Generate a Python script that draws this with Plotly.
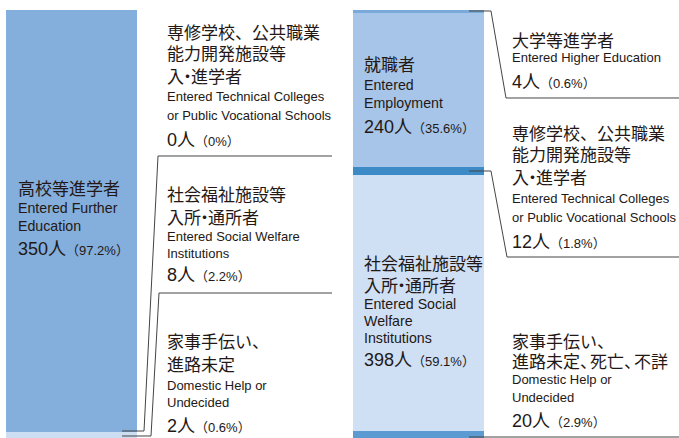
import plotly.graph_objects as go

# ---- data (stacked bottom -> top) ----
groups = ["中学部", "高等部"]
val_domestic = [2, 20]
val_welfare = [8, 398]
val_technical = [0, 12]
val_employment = [0, 240]
val_advance = [350, 4]

pct_domestic = ["0.6", "2.9"]
pct_welfare = ["2.2", "59.1"]
pct_technical = ["0", "1.8"]
pct_employment = ["", "35.6"]
pct_advance = ["97.2", "0.6"]

col_domestic = ["#5B9BD1", "#5B9BD1"]
col_welfare = ["#CDDEF2", "#CFDFF4"]
col_technical = ["#3C8AC6", "#3C8AC6"]
col_employment = ["#A7C5E8", "#A7C5E8"]
col_advance = ["#84AEDB", "#7AAAD9"]

W, H = 679, 438
BAR_W = 0.3775

fig = go.Figure()
for vals, cols in [(val_domestic, col_domestic), (val_welfare, col_welfare),
                   (val_technical, col_technical), (val_employment, col_employment),
                   (val_advance, col_advance)]:
    fig.add_trace(go.Bar(x=groups, y=vals, width=BAR_W,
                         marker=dict(color=cols, line=dict(width=0)),
                         hoverinfo="skip", showlegend=False))

def px(x, y):
    return x / W, 1 - y / H

JP = "Noto Sans CJK JP"
EN = "Liberation Sans, Noto Sans CJK JP"
TXT = "#231815"

anns = []
def line(x, y, text, size, fam):
    xx, yy = px(x, y)
    anns.append(dict(x=xx, y=yy, xref="paper", yref="paper", text=text,
                     showarrow=False, xanchor="left", yanchor="middle",
                     xshift=-2,
                     font=dict(family=fam, size=size, color=TXT)))

def tight(s, ls):
    return f"<span style='letter-spacing:{ls}px'>{s}</span>"

def num(v, p):
    return f"{v}人<span style='font-size:13px'>（{p}%）</span>"

def block(x, rows):
    for y, kind, t in rows:
        if kind == "jp":
            line(x, y, t, 17, JP)
        elif kind == "en":
            line(x, y, t, 13, EN)
        elif kind == "enb":
            line(x, y, t, 14.2, EN)
        else:
            line(x, y, t, 18, EN)

L_TECH = tight("入・", -5) + "進学者"
L_WELF = "入" + tight("所・", -5) + "通所者"
L_DOM_R = "進路未定" + tight("、", -7) + "死亡" + tight("、", -7) + "不詳"

# left bar inside
block(18, [(187, "jp", "高校等進学者"), (208, "enb", "Entered Further"),
           (226, "enb", "Education"), (249, "num", num(val_advance[0], pct_advance[0]))])
# left outside
block(167, [(31, "jp", "専修学校、公共職業"), (53, "jp", "能力開発施設等"), (75, "jp", L_TECH),
            (96, "en", "Entered Technical Colleges"), (115, "en", "or Public Vocational Schools"),
            (140, "num", num(val_technical[0], pct_technical[0]))])
block(167, [(193, "jp", "社会福祉施設等"), (216, "jp", L_WELF),
            (236, "en", "Entered Social Welfare"), (253, "en", "Institutions"),
            (275, "num", num(val_welfare[0], pct_welfare[0]))])
block(167, [(340, "jp", "家事手伝い、"), (363, "jp", "進路未定"),
            (385, "en", "Domestic Help or"), (402, "en", "Undecided"),
            (426, "num", num(val_domestic[0], pct_domestic[0]))])
# right bar inside
block(364, [(63, "jp", "就職者"), (85, "enb", "Entered"), (103, "enb", "Employment"),
            (127, "num", num(val_employment[1], pct_employment[1]))])
block(364, [(262, "jp", "社会福祉施設等"), (284, "jp", L_WELF),
            (304, "enb", "Entered Social"), (321, "enb", "Welfare"), (338, "enb", "Institutions"),
            (360, "num", num(val_welfare[1], pct_welfare[1]))])
# right outside
block(512, [(39, "jp", "大学等進学者"), (58, "en", "Entered Higher Education"),
            (82, "num", num(val_advance[1], pct_advance[1]))])
block(512, [(132, "jp", "専修学校、公共職業"), (154, "jp", "能力開発施設等"), (176, "jp", L_TECH),
            (198, "en", "Entered Technical Colleges"), (218, "en", "or Public Vocational Schools"),
            (242, "num", num(val_technical[1], pct_technical[1]))])
block(512, [(340, "jp", "家事手伝い、"), (360, "jp", L_DOM_R),
            (379, "en", "Domestic Help or"), (397, "en", "Undecided"),
            (421, "num", num(val_domestic[1], pct_domestic[1]))])

# connector lines (decoration, paper coords)
paths = [
    [(122, 431), (144, 431), (158, 156), (332, 156)],
    [(122, 436), (151, 436), (159, 293), (332, 293)],
    [(469, 11), (491, 11), (506, 98), (679, 98)],
    [(469, 171), (491, 171), (507, 257), (679, 257)],
    [(469, 437), (679, 437)],
]
shapes = []
for pts in paths:
    d = ""
    for i, (x, y) in enumerate(pts):
        xx, yy = px(x, y)
        d += ("M" if i == 0 else " L") + f"{xx:.5f},{yy:.5f}"
    shapes.append(dict(type="path", path=d, xref="paper", yref="paper",
                       line=dict(color="#444444", width=1)))

fig.update_layout(
    width=W, height=H, margin=dict(l=0, r=0, t=0, b=0),
    barmode="stack", barnorm="percent",
    paper_bgcolor="white", plot_bgcolor="white",
    xaxis=dict(range=[-0.206, 1.751], visible=False, fixedrange=True),
    yaxis=dict(range=[1.382, 102.304], visible=False, fixedrange=True),
    annotations=anns, shapes=shapes, showlegend=False,
)
fig.write_html("out.html", config={"displayModeBar": False},
               post_script="document.body.style.margin='0';document.body.style.overflow='hidden';")
